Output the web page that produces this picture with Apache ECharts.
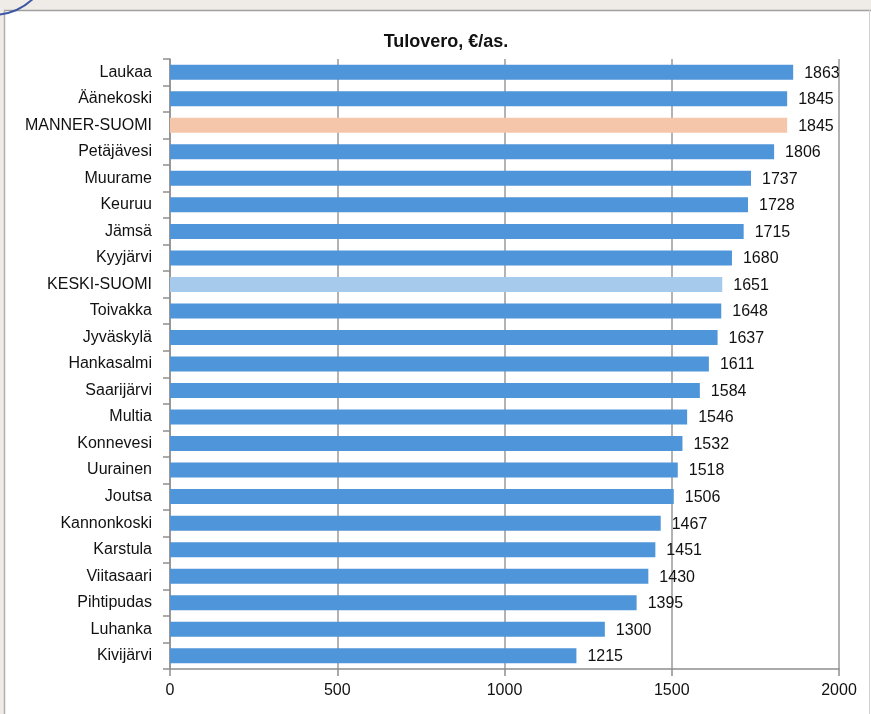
<!DOCTYPE html>
<html>
<head>
<meta charset="utf-8">
<script src="https://cdn.jsdelivr.net/npm/echarts@6/dist/echarts.min.js"></script>
<style>
html,body{margin:0;padding:0;background:#fff;}
#c{width:871px;height:714px;}
</style>
</head>
<body>
<div id="c"></div>
<script>
const categories = ["Laukaa","Äänekoski","MANNER-SUOMI","Petäjävesi","Muurame","Keuruu","Jämsä","Kyyjärvi","KESKI-SUOMI","Toivakka","Jyväskylä","Hankasalmi","Saarijärvi","Multia","Konnevesi","Uurainen","Joutsa","Kannonkoski","Karstula","Viitasaari","Pihtipudas","Luhanka","Kivijärvi"];
const values = [1863,1845,1845,1806,1737,1728,1715,1680,1651,1648,1637,1611,1584,1546,1532,1518,1506,1467,1451,1430,1395,1300,1215];
const xTicks = [0,500,1000,1500,2000];
const title = "Tulovero, €/as.";

const colorMain = "#4f95d9";
const colorSpecial = {"MANNER-SUOMI":"#f6c6aa","KESKI-SUOMI":"#a6caec"};

const chart = echarts.init(document.getElementById('c'), null, {renderer:'canvas'});
const font = "'Liberation Sans', Arial, sans-serif";
chart.setOption({
  backgroundColor:'#ffffff',
  animation:false,
  title:{
    text:title, left:441, top:28, textAlign:'center',
    textStyle:{fontFamily:font, fontWeight:'bold', fontSize:18, color:'#111'}
  },
  grid:{left:170, right:32, top:59, bottom:45, containLabel:false},
  xAxis:{
    type:'value', min:xTicks[0], max:xTicks[xTicks.length-1], interval:500,
    axisLine:{show:true, lineStyle:{color:'#8f8f8f', width:1.5}},
    axisTick:{show:true, length:7, lineStyle:{color:'#8f8f8f', width:1.5}},
    splitLine:{show:true, lineStyle:{color:'#9a9a9a', width:1.5}},
    axisLabel:{fontFamily:font, fontSize:16, color:'#111', margin:14, formatter:(v)=>String(v)}
  },
  yAxis:{
    type:'category', data:categories, inverse:true,
    axisLine:{show:true, lineStyle:{color:'#8f8f8f', width:1.5}},
    axisTick:{show:true, length:7, alignWithLabel:false, lineStyle:{color:'#8f8f8f', width:1.5}},
    axisLabel:{fontFamily:font, fontSize:16, color:'#111', margin:18}
  },
  series:[{
    type:'bar', barWidth:15,
    data: values.map((v,i)=>({value:v, itemStyle:{color: colorSpecial[categories[i]] || colorMain}})),
    label:{show:true, position:'right', distance:11, offset:[0,1], fontFamily:font, fontSize:16, color:'#111', formatter:(p)=>String(p.value)}
  }],
  graphic:[
    {type:'rect', shape:{x:0,y:0,width:871,height:10}, style:{fill:'#efece7'}, z:100},
    {type:'rect', shape:{x:0,y:0,width:4,height:714}, style:{fill:'#efece7'}, z:100},
    {type:'line', shape:{x1:4,y1:10.5,x2:871,y2:10.5}, style:{stroke:'#a0a0a0', lineWidth:1.5}, z:101},
    {type:'line', shape:{x1:4.5,y1:10,x2:4.5,y2:714}, style:{stroke:'#b0b0b0', lineWidth:1.5}, z:101},
    {type:'line', shape:{x1:869.5,y1:10,x2:869.5,y2:714}, style:{stroke:'#d0d0d0', lineWidth:1}, z:101},
    {type:'arc', shape:{cx:-8, cy:-45, r:60, startAngle:0, endAngle:Math.PI/2}, style:{stroke:'#3d55a3', lineWidth:2, fill:null}, z:102}
  ]
});
</script>
</body>
</html>
